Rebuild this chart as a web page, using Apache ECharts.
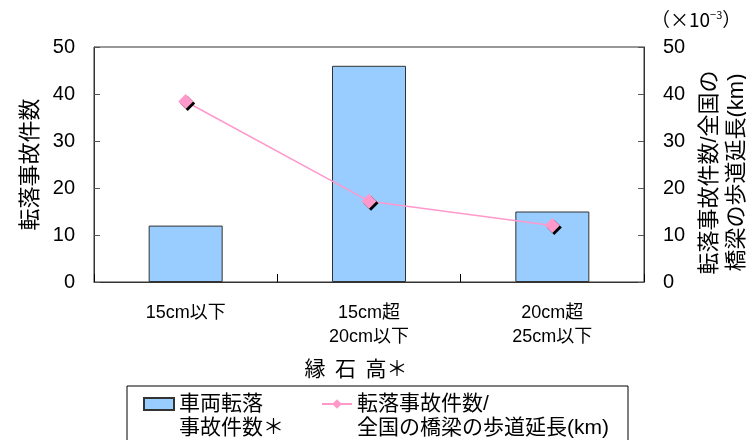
<!DOCTYPE html>
<html>
<head>
<meta charset="utf-8">
<script src="https://cdn.jsdelivr.net/npm/echarts@6/dist/echarts.min.js"></script>
<style>
  html, body { margin: 0; padding: 0; background: #fff; }
  #chart { width: 746px; height: 440px; }
</style>
</head>
<body>
<div id="chart"></div>
<script>
// 縁石高ごとの車両転落事故件数
const categories = ['15cm以下', '15cm超\n20cm以下', '20cm超\n25cm以下']
const accidents = [12, 46, 15]
// 転落事故件数/全国の橋梁の歩道延長(km)  (×10^-3)
const perKm = [38.4, 17.2, 12.0]
const axisTicks = [0, 10, 20, 30, 40, 50]

const font = '"Liberation Sans", "Noto Sans CJK JP", sans-serif'
const jp = '"Noto Sans CJK JP", sans-serif'
const barName = '車両転落\n事故件数＊'
const lineName = '転落事故件数/\n全国の橋梁の歩道延長(km)'

const legendText = { fontFamily: font, fontSize: 21, color: '#000', lineHeight: 24 }

const myChart = echarts.init(document.getElementById('chart'))
myChart.setOption({
  animation: false,
  grid: {
    left: 94,
    right: 102,
    top: 47,
    bottom: 158,
    outerBoundsMode: 'none',
    containLabel: false,
    show: true,
    borderColor: '#333',
    borderWidth: 1
  },
  legend: [{
    left: 143,
    top: 368,
    padding: 0,
    itemWidth: 30,
    itemHeight: 12,
    itemTextGap: 5,
    selectedMode: false,
    textStyle: legendText,
    // 空行を先頭に入れて1行目をアイコンの高さに合わせる
    formatter: name => '\n' + name,
    data: [{ name: barName, icon: 'rect' }]
  }, {
    left: 321,
    top: 368,
    padding: 0,
    itemWidth: 30,
    itemHeight: 12,
    itemTextGap: 5,
    selectedMode: false,
    textStyle: legendText,
    formatter: name => '\n' + name,
    data: [{ name: lineName }]
  }],
  graphic: [{
    type: 'rect',
    shape: { x: 127, y: 386, width: 501, height: 70 },
    style: { fill: 'none', stroke: '#000', lineWidth: 1 }
  }, {
    type: 'text',
    left: 651,
    top: 9,
    style: {
      text: '（×10{sup|−3}）',
      fontFamily: jp,
      fontSize: 19,
      fill: '#000',
      rich: { sup: { fontSize: 11, verticalAlign: 'top', padding: [0, 0, 10, 0], fontFamily: jp } }
    }
  }],
  xAxis: {
    type: 'category',
    data: categories,
    name: '縁  石  高＊',
    nameLocation: 'middle',
    nameGap: 76,
    nameTextStyle: { fontFamily: jp, fontSize: 21, color: '#000', padding: [0, 26, 0, 0] },
    axisLine: { lineStyle: { color: '#333', width: 1 } },
    axisTick: { show: true, inside: true, length: 8, lineStyle: { color: '#000' } },
    axisLabel: { margin: 19, fontFamily: font, fontSize: 18, lineHeight: 24, color: '#000' }
  },
  yAxis: [{
    type: 'value',
    min: 0,
    max: 50,
    interval: 10,
    name: '転落事故件数',
    nameLocation: 'middle',
    nameRotate: 90,
    nameGap: 54,
    nameTextStyle: { fontFamily: jp, fontSize: 22, color: '#000' },
    axisLine: { show: true, lineStyle: { color: '#333', width: 1 } },
    axisTick: { show: true, inside: true, length: 6, lineStyle: { color: '#555' } },
    splitLine: { show: false },
    axisLabel: {
      margin: 19, fontFamily: font, fontSize: 20, color: '#000',
      formatter: v => axisTicks.indexOf(v) >= 0 ? String(v) : ''
    }
  }, {
    type: 'value',
    min: 0,
    max: 50,
    interval: 10,
    position: 'right',
    name: '転落事故件数/全国の\n橋梁の歩道延長(km)',
    nameLocation: 'middle',
    nameRotate: 90,
    nameGap: 52,
    nameTextStyle: { fontFamily: font, fontSize: 22, color: '#000', lineHeight: 27, padding: [0, 16, 0, 0] },
    axisLine: { show: true, lineStyle: { color: '#333', width: 1 } },
    axisTick: { show: true, inside: true, length: 6, lineStyle: { color: '#555' } },
    splitLine: { show: false },
    axisLabel: {
      margin: 19, fontFamily: font, fontSize: 20, color: '#000',
      formatter: v => axisTicks.indexOf(v) >= 0 ? String(v) : ''
    }
  }],
  series: [{
    name: barName,
    type: 'bar',
    yAxisIndex: 0,
    barWidth: 74,
    itemStyle: { color: '#99ccff', borderColor: '#333', borderWidth: 1 },
    data: accidents
  }, {
    name: lineName,
    type: 'line',
    yAxisIndex: 1,
    symbol: 'diamond',
    symbolSize: 15,
    lineStyle: { color: '#ff99cc', width: 1.5 },
    itemStyle: {
      color: '#ff99cc',
      shadowColor: '#000',
      shadowOffsetX: 2,
      shadowOffsetY: 2,
      shadowBlur: 0
    },
    data: perKm
  }]
})
</script>
</body>
</html>
